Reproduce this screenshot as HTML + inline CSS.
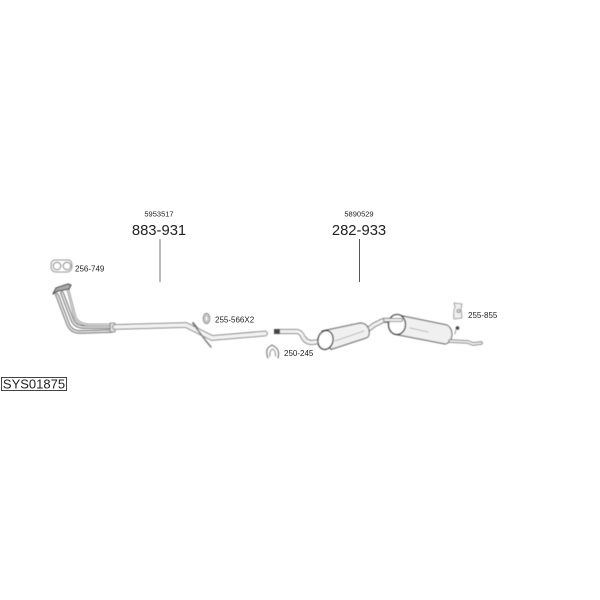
<!DOCTYPE html>
<html>
<head>
<meta charset="utf-8">
<style>
html,body{margin:0;padding:0;background:#fff;}
svg{display:block;}
text{font-family:"Liberation Sans",sans-serif;fill:#222;}
.s{filter:blur(0.45px);}
</style>
</head>
<body>
<svg width="600" height="600" viewBox="0 0 600 600" xmlns="http://www.w3.org/2000/svg">
<defs><filter id="b" x="-5%" y="-5%" width="110%" height="110%"><feGaussianBlur stdDeviation="0.4"/></filter></defs>
<rect width="600" height="600" fill="#fff"/>

<text x="159" y="216.500" font-size="7.500" text-anchor="middle" fill="#444">5953517</text>
<text x="159" y="235" font-size="14.800" text-anchor="middle">883-931</text>
<line x1="160" y1="239" x2="160" y2="282" stroke="#777" stroke-width="1"/>
<text x="359" y="216.500" font-size="7.500" text-anchor="middle" fill="#444">5890529</text>
<text x="359" y="235" font-size="14.800" text-anchor="middle">282-933</text>
<line x1="359.500" y1="239" x2="359.500" y2="282" stroke="#555" stroke-width="1"/>

<rect x="1.500" y="377.500" width="65" height="13" fill="#fff" stroke="#444" stroke-width="1"/>
<text x="34" y="388.500" font-size="13" text-anchor="middle">SYS01875</text>

<text x="75" y="271.500" font-size="8" fill="#444">256-749</text>
<text x="215" y="322.500" font-size="8" fill="#444">255-566X2</text>
<text x="284" y="356" font-size="8" fill="#444">250-245</text>
<text x="468" y="318" font-size="8" fill="#444">255-855</text>

<g fill="none" stroke-linejoin="round" stroke-linecap="round" filter="url(#b)">
<!-- gasket 256-749 -->
<path d="M55 260 H68 Q72 260 72 266 Q72 272 66 272 H56 Q51 272 51 266 Q51 260 55 260Z" stroke="#999" stroke-width="1"/>
<circle cx="57" cy="266" r="3.800" stroke="#888" stroke-width="1"/>
<circle cx="67" cy="266" r="3.800" stroke="#888" stroke-width="1"/>

<!-- front pipes -->
<path d="M57 295 L68 324 Q71 332 80 332 L112 331" stroke="#666" stroke-width="3.500"/>
<path d="M57 295 L68 324 Q71 332 80 332 L112 331" stroke="#e8e8e8" stroke-width="1.600"/>
<path d="M62 293 L72 319 Q75 327 84 327 L112 327" stroke="#666" stroke-width="3.500"/>
<path d="M62 293 L72 319 Q75 327 84 327 L112 327" stroke="#e8e8e8" stroke-width="1.600"/>
<path d="M68 290 L75 317 Q78 324 88 325 L112 325" stroke="#777" stroke-width="2.500"/>
<path d="M68 290 L75 317 Q78 324 88 325 L112 325" stroke="#eee" stroke-width="1"/>
<path d="M53 294 L56 288 L68 284 L71 285 L69 289 L58 291 Z" fill="#aaa" stroke="#444" stroke-width="1.100"/>
<path d="M110 323 L115 323 L115 332 L110 332 Z" fill="#ddd" stroke="#777" stroke-width="0.800"/>

<!-- mid pipe -->
<path d="M115 327 L186 325 L212 338 L265 333.500" stroke="#777" stroke-width="5.600"/>
<path d="M115 327 L186 325 L212 338 L265 333.500" stroke="#f2f2f2" stroke-width="3.800"/>
<path d="M194 325 L200 333 L206 341 L211 347" stroke="#777" stroke-width="1.400"/>
<path d="M193 323 L197 328" stroke="#777" stroke-width="2"/>

<!-- bracket 255-566 -->
<ellipse cx="206.500" cy="318.500" rx="3.200" ry="5" stroke="#777" stroke-width="1"/>
<ellipse cx="206.500" cy="318.500" rx="1.400" ry="3.200" stroke="#999" stroke-width="0.800"/>

<!-- clamp 250-245 -->
<path d="M268 358 Q265 350 269 347 L272 345 L275 347 Q280 350 278 358" stroke="#666" stroke-width="1"/>
<path d="M270 356 Q269 351 272.500 349 Q276 351 275.500 356" stroke="#888" stroke-width="1"/>

<!-- connecting pipe to first silencer -->
<path d="M280 331.500 L297 331.500 Q301 332 303 337 Q306 342.500 312 342.500 L324 341" stroke="#777" stroke-width="5"/>
<path d="M280 331.500 L297 331.500 Q301 332 303 337 Q306 342.500 312 342.500 L324 341" stroke="#f2f2f2" stroke-width="3.200"/>
<rect x="274" y="329" width="6" height="5" fill="#444" stroke="none"/>
<path d="M366 331 L374 325 L383 320.500 L403 320" stroke="#777" stroke-width="5"/>
<path d="M366 331 L374 325 L383 320.500 L403 320" stroke="#f2f2f2" stroke-width="3.200"/>

<!-- first silencer -->
<path d="M322 331 L360 323 Q367 323 369 330 Q370 337 366 338 L331 349.500 Z" fill="#f0f0f0" stroke="#555" stroke-width="1"/>
<ellipse cx="325.500" cy="340" rx="7.500" ry="9.500" transform="rotate(12 325.500 340)" fill="#fff" stroke="#333" stroke-width="1.300"/>
<path d="M335 341 L364 331" stroke="#aaa" stroke-width="0.800"/>

<!-- second silencer -->
<path d="M398 315 L447 325 Q452 328 452 335 Q451 343 445 344 L396 334.500 Z" fill="#f0f0f0" stroke="#555" stroke-width="1"/>
<ellipse cx="397" cy="324.500" rx="8.500" ry="10" fill="#fff" stroke="#333" stroke-width="1.300"/>
<path d="M385 320 L401 320" stroke="#777" stroke-width="4"/>
<path d="M385 320 L401 320" stroke="#f2f2f2" stroke-width="2.200"/>
<path d="M410 328 L428 332" stroke="#aaa" stroke-width="0.800"/>

<!-- tail pipe -->
<path d="M450 341 L468 342 L473 344 L481 343" stroke="#777" stroke-width="3.600"/>
<path d="M450 341 L468 342 L473 344 L481 343" stroke="#eee" stroke-width="1.800"/>

<!-- rubber hanger -->
<circle cx="457.500" cy="328" r="1.800" fill="#444" stroke="none"/>
<path d="M455 334 L456 329" stroke="#888" stroke-width="0.800"/>

<!-- bracket 255-855 -->
<path d="M454 303 L462 304 L461 309 L462 318 L454 319 Q453 311 455 307 Z" fill="#eee" stroke="#888" stroke-width="0.800"/>
<circle cx="458.500" cy="311" r="1.500" stroke="#666" stroke-width="0.800"/>
</g>
</svg>
</body>
</html>
